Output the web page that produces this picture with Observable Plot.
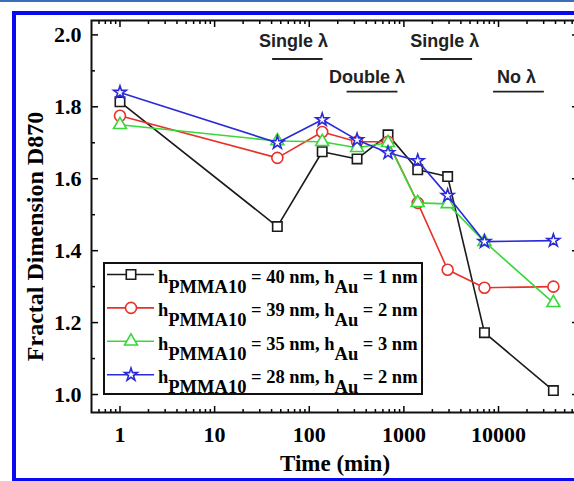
<!DOCTYPE html>
<html><head><meta charset="utf-8">
<script src="https://cdn.jsdelivr.net/npm/d3@7"></script>
<script src="https://cdn.jsdelivr.net/npm/@observablehq/plot@0.6"></script>
<style>
html,body{margin:0;padding:0;background:#fff;}
#fig{position:relative;width:574px;height:481px;overflow:hidden;background:#fff;}
#fig > svg{position:absolute;left:0;top:0;}
#border{position:absolute;left:12px;top:11px;right:-20px;bottom:-1px;border:4px solid #0a0af2;box-sizing:border-box;pointer-events:none;}
#topline{position:absolute;left:0;top:0;width:574px;height:2px;background:#3b6db8;}
</style></head><body><div id="fig"><div id="topline"></div><div id="border"></div></div>
<script>
// ---- data ----
const times = [1, 46, 137, 320, 680, 1400, 2900, 7100, 38000];
const hPMMA = [40, 39, 35, 28];
const hAu = [1, 2, 3, 2];
const dSquare   = [1.814, 1.467, 1.675, 1.655, 1.722, 1.625, 1.606, 1.172, 1.011];
const dCircle   = [1.775, 1.658, 1.730, 1.703, 1.703, 1.533, 1.347, 1.297, 1.300];
const dTriangle = [1.750, 1.705, 1.703, 1.686, 1.700, 1.533, 1.530, 1.425, 1.255];
const dStar     = [1.840, 1.700, 1.764, 1.708, 1.672, 1.650, 1.553, 1.425, 1.428];
const xMajor = [1, 10, 100, 1000, 10000];
const xMinor = [0.6,0.7,0.8,0.9,2,3,4,5,6,7,8,9,20,30,40,50,60,70,80,90,200,300,400,500,600,700,800,900,2000,3000,4000,5000,6000,7000,8000,9000,20000,30000,40000,50000,60000];
const yMajor = [1.0, 1.2, 1.4, 1.6, 1.8, 2.0];
const yMinor = [1.1, 1.3, 1.5, 1.7, 1.9];
const phaseLabels = ["Single λ", "Double λ", "Single λ", "No λ"];
const phaseTextTime = [68, 408, 2700, 15500];
const phaseStart = [41, 251, 1510, 8860];
const phaseEnd = [140, 865, 5320, 30500];
const phaseTextY = [1.983, 1.883, 1.983, 1.883];
const phaseLineY = [1.933, 1.842, 1.933, 1.842];

// ---- styles ----
const values = [dSquare, dCircle, dTriangle, dStar];
const styles = [
  {color: "#1a1a1a", symbol: "square", d3sym: d3.symbolSquare, r: 5.3},
  {color: "#e8312a", symbol: "circle", d3sym: d3.symbolCircle, r: 5.5},
  {color: "#38d838", symbol: "triangle", d3sym: d3.symbolTriangle, r: 4.8},
  {color: "#2a2ad8", symbol: "star", d3sym: d3.symbolStar, r: 4.0}
];
const phases = phaseLabels.map((label, i) => ({label, xt: phaseTextTime[i], x1: phaseStart[i], x2: phaseEnd[i], yt: phaseTextY[i], yl: phaseLineY[i]}));

const seriesMarks = [];
values.forEach((vals, i) => {
  const rows = times.map((t, j) => ({t, v: vals[j]}));
  const st = styles[i];
  seriesMarks.push(Plot.line(rows, {x: "t", y: "v", stroke: st.color, strokeWidth: 1.6}));
  seriesMarks.push(Plot.dot(rows, {x: "t", y: "v", symbol: st.symbol, r: st.r, stroke: st.color, fill: "white", strokeWidth: 1.6}));
});

const blank = () => "";
const chart = Plot.plot({
  width: 580, height: 481,
  marginLeft: 91, marginRight: 2, marginTop: 20, marginBottom: 69,
  x: {type: "log", domain: [0.5, 70000]},
  y: {domain: [0.95, 2.04]},
  style: {fontFamily: "'Liberation Serif', 'Times New Roman', serif", fontSize: "22px", fontWeight: "bold", color: "#000", background: "transparent", maxWidth: "none", overflow: "visible"},
  marks: [
    Plot.axisX({anchor: "bottom", ticks: xMajor, tickSize: -6, tickPadding: 20, tickFormat: d => String(d), strokeWidth: 1.5, label: null}),
    Plot.axisX({anchor: "bottom", ticks: xMinor, tickSize: -3, tickFormat: blank, strokeWidth: 1.5, label: null}),
    Plot.axisX({anchor: "top", ticks: xMajor, tickSize: -6, tickFormat: blank, strokeWidth: 1.5, label: null}),
    Plot.axisX({anchor: "top", ticks: xMinor, tickSize: -3, tickFormat: blank, strokeWidth: 1.5, label: null}),
    Plot.axisY({anchor: "left", ticks: yMajor, tickSize: -7, tickPadding: 17, tickFormat: d3.format(".1f"), strokeWidth: 1.5, label: null}),
    Plot.axisY({anchor: "left", ticks: yMinor, tickSize: -4, tickFormat: blank, strokeWidth: 1.5, label: null}),
    Plot.axisY({anchor: "right", ticks: yMajor, tickSize: -7, tickFormat: blank, strokeWidth: 1.5, label: null}),
    Plot.axisY({anchor: "right", ticks: yMinor, tickSize: -4, tickFormat: blank, strokeWidth: 1.5, label: null}),
    Plot.frame({stroke: "#111", strokeWidth: 2}),
    Plot.ruleY(phases, {x1: "x1", x2: "x2", y: "yl", stroke: "#222", strokeWidth: 1.8}),
    Plot.text(phases, {x: "xt", y: "yt", text: "label", fontFamily: "'Liberation Sans', Arial, sans-serif", fontSize: 18, fontWeight: "bold", fill: "#222"}),
    ...seriesMarks,
    Plot.text(["Time (min)"], {text: d => d, frameAnchor: "bottom", textAnchor: "middle", lineAnchor: "middle", dy: 51, fontSize: 23, fontWeight: "bold", fill: "#000"}),
    Plot.text(["Fractal Dimension D870"], {text: d => d, frameAnchor: "left", textAnchor: "middle", lineAnchor: "middle", rotate: -90, dx: -56, dy: 20, fontSize: 24, fontWeight: "bold", fill: "#000"})
  ]
});
const fig = document.getElementById("fig");
fig.insertBefore(chart, document.getElementById("topline"));

// ---- legend ----
const lsvg = d3.select("#fig").append("svg").attr("width", 574).attr("height", 481)
  .style("position", "absolute").style("left", 0).style("top", 0).style("pointer-events", "none");
lsvg.append("rect").attr("x", 104).attr("y", 263).attr("width", 318).attr("height", 131)
  .attr("fill", "white").attr("stroke", "#111").attr("stroke-width", 2);
styles.forEach((st, i) => {
  const by = 283 + i * 33.4;
  const cy = by - 8.5;
  lsvg.append("line").attr("x1", 107).attr("x2", 154).attr("y1", cy).attr("y2", cy)
    .attr("stroke", st.color).attr("stroke-width", 1.6);
  lsvg.append("path").attr("d", d3.symbol(st.d3sym, Math.PI * st.r * st.r)())
    .attr("transform", `translate(131,${cy})`).attr("fill", "white").attr("stroke", st.color).attr("stroke-width", 1.6);
  const t = lsvg.append("text").attr("x", 158).attr("y", by)
    .attr("font-family", "'Liberation Serif', 'Times New Roman', serif").attr("font-weight", "bold").attr("font-size", 18.5).attr("fill", "#000");
  t.append("tspan").text("h");
  t.append("tspan").attr("dy", 10).text("PMMA10");
  t.append("tspan").attr("dy", -10).text(` = ${hPMMA[i]} nm, h`);
  t.append("tspan").attr("dy", 10).text("Au");
  t.append("tspan").attr("dy", -10).text(` = ${hAu[i]} nm`);
});
</script>
</body></html>
